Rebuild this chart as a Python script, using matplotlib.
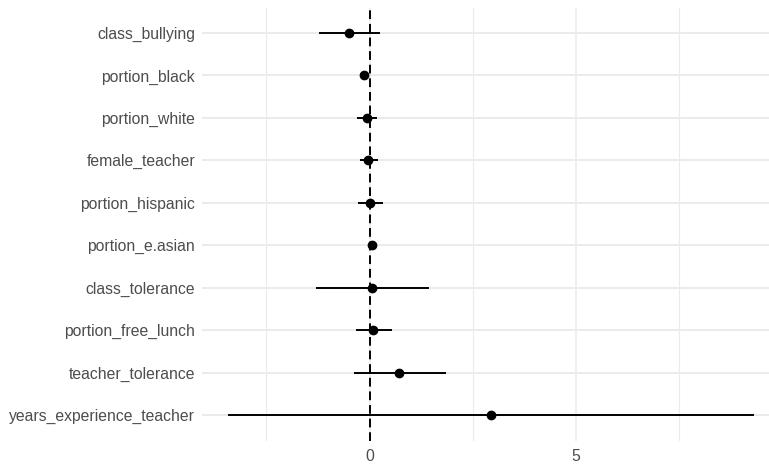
import matplotlib.pyplot as plt
import numpy as np

plt.rcParams['font.family'] = ['Liberation Sans', 'DejaVu Sans']

# coefficient estimates with lower / upper interval bounds, top row first
terms = [
    "class_bullying",
    "portion_black",
    "portion_white",
    "female_teacher",
    "portion_hispanic",
    "portion_e.asian",
    "class_tolerance",
    "portion_free_lunch",
    "teacher_tolerance",
    "years_experience_teacher",
]
estimate = [-0.50, -0.13, -0.07, -0.03, 0.01, 0.05, 0.05, 0.09, 0.72, 2.94]
conf_low = [-1.22, -0.20, -0.30, -0.23, -0.29, 0.00, -1.30, -0.32, -0.38, -3.42]
conf_high = [0.25, -0.06, 0.17, 0.20, 0.33, 0.10, 1.43, 0.55, 1.86, 9.31]

W, H, DPI = 769, 468, 100
fig = plt.figure(figsize=(W / DPI, H / DPI), dpi=DPI)

# x range with 5% padding on each side, like ggplot's default expansion
lo, hi = min(conf_low), max(conf_high)
pad = 0.05 * (hi - lo)
xlim = (lo - pad, hi + pad)

# panel starts at px 202; keep 41.3 px per unit, so right edge runs past the canvas
left_px, top_px, bottom_px = 202, 7.5, 440.5
px_per_unit = 41.3
width_px = (xlim[1] - xlim[0]) * px_per_unit
ax = fig.add_axes([left_px / W, 1 - bottom_px / H, width_px / W, (bottom_px - top_px) / H])

y = np.arange(len(terms))
grid = "#EBEBEB"

for s in ax.spines.values():
    s.set_visible(False)

ax.set_xlim(*xlim)
ax.set_ylim(len(terms) - 1 + 0.6, -0.6)

ax.set_xticks([0, 5])
ax.set_xticks([-2.5, 2.5, 7.5], minor=True)
ax.set_yticks(y)
ax.set_yticklabels(terms)

ax.grid(axis="x", which="major", color=grid, lw=1.1, zorder=0)
ax.grid(axis="x", which="minor", color=grid, lw=0.8, zorder=0)
ax.grid(axis="y", which="major", color=grid, lw=1.4, zorder=0)
ax.set_axisbelow(True)

ax.tick_params(axis="both", which="both", length=0, colors="#4D4D4D", labelsize=11.3)
ax.tick_params(axis="y", pad=5)
ax.tick_params(axis="x", pad=6)

ax.axvline(0, color="black", lw=1.4, dashes=(4.5, 2.5), zorder=2)

ax.hlines(y, conf_low, conf_high, color="black", lw=1.4, zorder=3)
ax.plot(estimate, y, "o", color="black", ms=6, zorder=4)

fig.savefig("out.png", dpi=DPI)
